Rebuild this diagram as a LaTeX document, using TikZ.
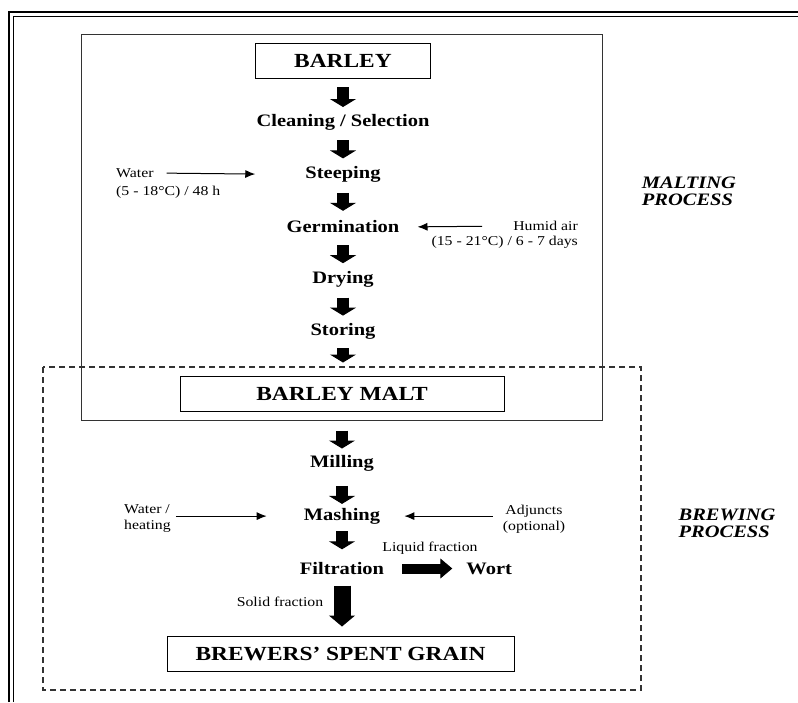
\documentclass[tikz,border=0pt]{standalone}
\usepackage{fontspec}
\setmainfont{Liberation Serif}[FakeStretch=1.17]
\usepackage{tikz}
\usetikzlibrary{arrows.meta,positioning,calc}
\definecolor{framegray}{HTML}{333333}
\tikzset{
  stage/.style={font=\fontsize{17.5}{20}\selectfont\bfseries, inner sep=0pt, minimum height=22pt},
  product/.style={draw, line width=1pt, inner sep=0pt, font=\fontsize{20}{24}\selectfont\bfseries},
  note/.style={font=\fontsize{13.5}{16}\selectfont, inner sep=0pt},
  phase/.style={font=\fontsize{17.5}{17}\selectfont\bfseries\itshape, align=left, inner sep=0pt},
  blockarrow/.style={line width=12pt, -{Triangle[width=26pt,length=8pt,line width=1pt]}},
  feed/.style={line width=1pt, -{Latex[length=10pt,width=8pt]}}
}

\begin{document}
\begin{tikzpicture}[x=1pt, y=-1pt, node distance=30pt]
  \useasboundingbox (0,0) rectangle (798,702);
  % page frame
  \draw[line width=1.8pt] (9,702) |- (798,12);
  \draw[line width=0.9pt] (13,702) |- (798,16);
  % process areas
  \draw[framegray, line width=1pt] (81,34) rectangle (602,420);
  \draw[framegray, line width=1.1pt, dash pattern=on 6pt off 4pt] (43,367) rectangle (641,690);

  % malting chain
  \node[product, minimum width=175pt, minimum height=35pt] (barley) at (343,61) {BARLEY};
  \node[stage, below=32pt of barley] (clean) {Cleaning / Selection};
  \node[stage, below=of clean] (steep) {Steeping};
  \node[stage, below=of steep] (germ) {Germination};
  \node[stage, below=of germ] (dry) {Drying};
  \node[stage, below=of dry] (store) {Storing};
  \node[product, minimum width=324pt, minimum height=35pt] (malt) at (342,393.5) {BARLEY MALT};

  % brewing chain
  \node[stage, below=41pt of malt] (mill) {Milling};
  \node[stage, below=of mill] (mash) {Mashing};
  \node[stage, below=of mash] (filt) {Filtration};
  \node[stage, right=82pt of filt] (wort) {Wort};
  \node[product, minimum width=347pt, minimum height=35pt] (bsg) at (340.5,653.5) {BREWERS' SPENT GRAIN};

  % side inputs
  \node[note, anchor=west] (water) at (116,173) {Water};
  \node[note, anchor=west] (watercond) at (116,192) {(5 - 18°C) / 48 h};
  \node[note, anchor=east] (humid) at (578,226) {Humid air};
  \node[note, anchor=east] (humidcond) at (578,242) {(15 - 21°C) / 6 - 7 days};
  \node[note, align=left, anchor=west] (heat) at (124,518.5) {Water /\\heating};
  \node[note, align=center] (adjunct) at (534,519) {Adjuncts\\(optional)};
  \node[note] (liquid) at (430,548) {Liquid fraction};
  \node[note] (solid) at (280,602) {Solid fraction};

  \node[phase] (malting) at (689,191) {MALTING\\PROCESS};
  \node[phase] (brewing) at (727,523) {BREWING\\PROCESS};

  % main flow
  \draw[blockarrow, shorten <=8pt, shorten >=4pt] (barley) -- (clean);
  \draw[blockarrow, shorten <=7pt, shorten >=5pt] (clean) -- (steep);
  \draw[blockarrow, shorten <=7pt, shorten >=5pt] (steep) -- (germ);
  \draw[blockarrow, shorten <=7pt, shorten >=5pt] (germ) -- (dry);
  \draw[blockarrow, shorten <=7pt, shorten >=5pt] (dry) -- (store);
  \draw[blockarrow, shorten <=5pt, shorten >=13pt] (store) -- (store |- malt.north);
  \draw[blockarrow, shorten <=19pt, shorten >=4pt] (malt) -- (mill);
  \draw[blockarrow, shorten <=11pt, shorten >=1pt] (mill) -- (mash);
  \draw[blockarrow, shorten <=4pt, shorten >=8pt] (mash) -- (filt);
  \draw[line width=10pt, -{Triangle[width=20pt,length=12pt,line width=1pt]}, shorten <=18pt, shorten >=14pt] (filt) -- (wort);
  \draw[line width=17pt, -{Triangle[width=26pt,length=11pt,line width=1pt]}, shorten <=6pt, shorten >=9pt] (filt) -- (filt |- bsg.north);

  % inputs
  \draw[feed, shorten <=13pt, shorten >=50pt] (water.east) -- (steep.west);
  \draw[feed, shorten <=31pt, shorten >=18pt] (humid.west) -- (germ.east);
  \draw[feed, shorten <=5pt, shorten >=37pt] (heat.east |- mash) -- (mash.west);
  \draw[feed, shorten <=10pt, shorten >=24pt] (adjunct.west |- mash) -- (mash.east);
\end{tikzpicture}
\end{document}
